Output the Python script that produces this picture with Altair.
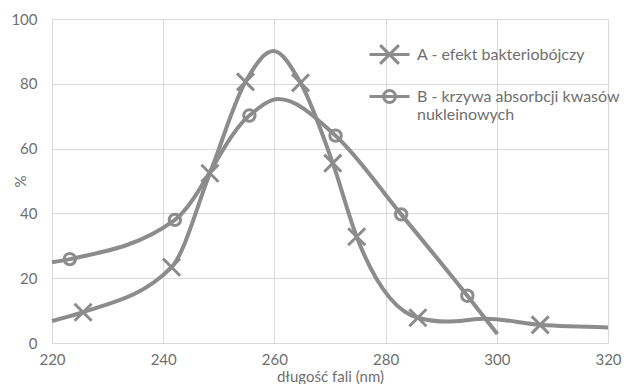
import altair as alt
import pandas as pd

# Series A - efekt bakteriobójczy (markers)
a_mark_x = [225.6, 241.5, 248.4, 254.8, 264.7, 270.5, 274.8, 285.8, 307.8]
a_mark_y = [9.5, 23.4, 52.4, 80.6, 80.3, 55.5, 32.8, 7.8, 5.6]
# Series A smooth curve
a_line_x = [220, 225.6, 241.5, 248.4, 254.8, 259.8, 264.7, 270.5, 274.8, 285.8, 291, 298, 307.8, 320]
a_line_y = [6.8, 9.5, 23.4, 52.4, 80.6, 90.1, 80.3, 55.5, 32.8, 7.8, 6.6, 7.5, 5.6, 4.8]

# Series B - krzywa absorbcji kwasów nukleinowych (markers)
b_mark_x = [223.2, 242.1, 255.5, 271.0, 282.8, 294.7]
b_mark_y = [25.9, 38.0, 70.2, 64.0, 39.7, 14.6]
b_line_x = [220, 223.2, 242.1, 255.5, 260.7, 271.0, 282.8, 294.7, 300.1]
b_line_y = [24.9, 25.9, 38.0, 70.2, 75.3, 64.0, 39.7, 14.6, 2.8]

series_names = ["A - efekt bakteriobójczy", "B - krzywa absorbcji kwasów\nnukleinowych"]
x_ticks = [220, 240, 260, 280, 300, 320]
y_ticks = [0, 20, 40, 60, 80, 100]

GREY = "#8c8c8c"
TXT = "#6f6f6f"
FONT = "Lato"

a_line = pd.DataFrame({"x": a_line_x, "y": a_line_y})
b_line = pd.DataFrame({"x": b_line_x, "y": b_line_y})
a_pts = pd.DataFrame({"x": a_mark_x, "y": a_mark_y})
b_pts = pd.DataFrame({"x": b_mark_x, "y": b_mark_y})
legend_df = pd.DataFrame({"s": series_names, "x": [0, 0], "y": [0, 0]})

xs = alt.Scale(domain=[220, 320], nice=False, zero=False)
ys = alt.Scale(domain=[0, 100], nice=False)

X = alt.X("x:Q", scale=xs, title="długość fali (nm)",
          axis=alt.Axis(values=x_ticks, grid=True, ticks=False, domain=True, labelFlush=False,
                        domainColor="#d9d9d9", labelPadding=9,
                        titleY=38, titleBaseline="alphabetic"))
Y = alt.Y("y:Q", scale=ys, title="%",
          axis=alt.Axis(values=y_ticks, grid=True, ticks=False, domain=False, labelFlush=False,
                        labelPadding=15, titleX=-32, titleY=162, titleAngle=270,
                        titleBaseline="middle"))

X_PATH = "M-1,-1L1,1M-1,1L1,-1"
LEG_A = "M-1,0L1,0M-0.47,-0.47L0.47,0.47M-0.47,0.47L0.47,-0.47"
LEG_B = "M-1,0L1,0M-0.3,0A0.3,0.3 0 1,1 0.3,0A0.3,0.3 0 1,1 -0.3,0"

lineA = alt.Chart(a_line).mark_line(interpolate="monotone", color=GREY, strokeWidth=4).encode(x=X, y=Y)
lineB = alt.Chart(b_line).mark_line(interpolate="monotone", color=GREY, strokeWidth=4).encode(x="x:Q", y="y:Q")
ptsA = alt.Chart(a_pts).mark_point(shape=X_PATH, size=290, color=GREY, strokeWidth=3, opacity=1).encode(x="x:Q", y="y:Q")
ptsB = alt.Chart(b_pts).mark_point(shape="circle", size=130, color=GREY, strokeWidth=3, filled=False, opacity=1).encode(x="x:Q", y="y:Q")

leg = alt.Chart(legend_df).transform_filter("false").mark_point(
    color=GREY, strokeWidth=3, filled=False, opacity=1).encode(
    x="x:Q", y="y:Q",
    shape=alt.Shape("s:N", scale=alt.Scale(domain=series_names, range=[LEG_A, LEG_B]),
                    legend=alt.Legend(title=None, orient="none", legendX=316, legendY=14,
                                      symbolSize=1600, symbolStrokeWidth=3,
                                      symbolStrokeColor=GREY, symbolFillColor="transparent",
                                      labelExpr="split(datum.label, '\\n')",
                                      labelFont=FONT, labelFontSize=16, labelColor=TXT,
                                      labelOffset=6, labelLimit=400, rowPadding=5, padding=0))
)

chart = alt.layer(lineA, lineB, ptsA, ptsB, leg).properties(
    width=556, height=324, background="white",
    autosize=alt.AutoSizeParams(type="none"),
    padding={"left": 44, "top": 11, "right": 15, "bottom": 41}
).configure_view(stroke=None).configure_axis(
    gridColor="#d9d9d9", gridWidth=1, labelFont=FONT, labelFontSize=15, labelColor=TXT,
    titleFont=FONT, titleFontSize=15, titleColor=TXT, titleFontWeight="normal"
)

chart.save("out.html", embed_options={"renderer": "svg", "actions": False})
